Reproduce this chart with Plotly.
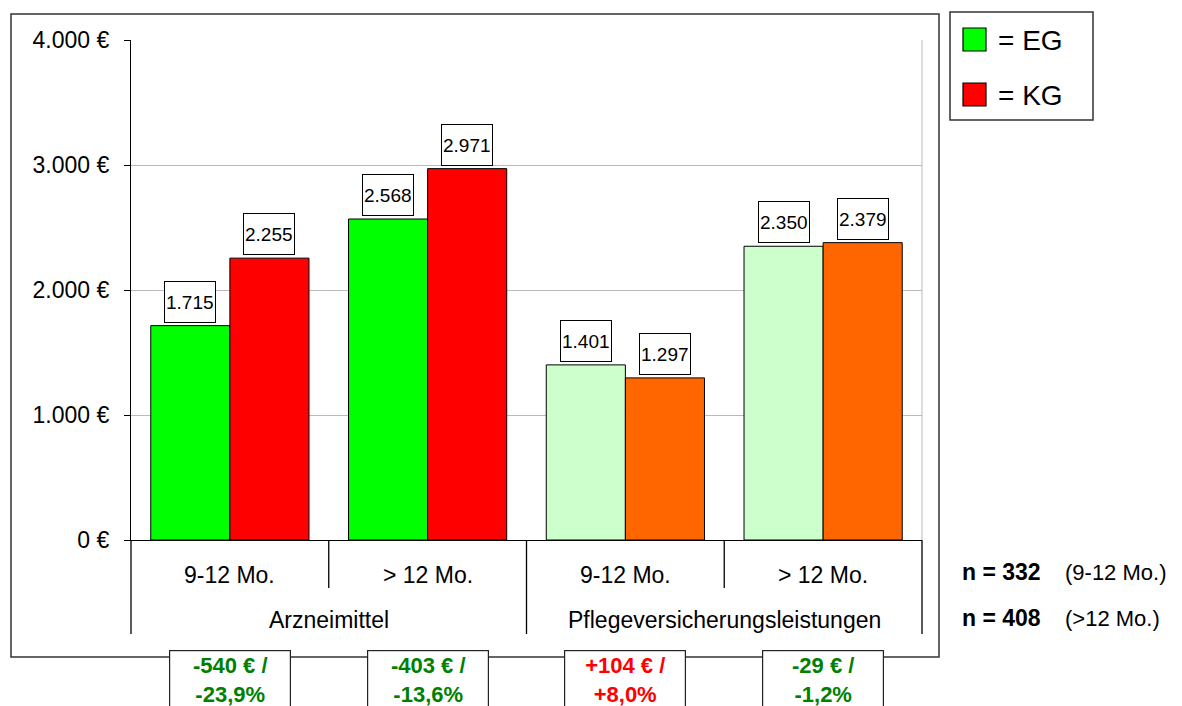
import plotly.graph_objects as go

# ---- data ----
groups = ["Arzneimittel", "Pflegeversicherungsleistungen"]
periods = ["9-12 Mo.", "> 12 Mo.", "9-12 Mo.", "> 12 Mo."]
series_names = ["EG", "KG"]
eg_values = [1715, 2568, 1401, 2350]
kg_values = [2255, 2971, 1297, 2379]
eg_colors = ["#00FF00", "#00FF00", "#CCFFCC", "#CCFFCC"]
kg_colors = ["#FF0000", "#FF0000", "#FF6600", "#FF6600"]
n_values = [332, 408]
n_periods = ["(9-12 Mo.)", "(>12 Mo.)"]
y_ticks = [0, 1000, 2000, 3000, 4000]

FONT = "Arial, Liberation Sans, sans-serif"
W, H = 1182, 706
L, R, T, B = 131, 922, 40, 540
PW, PH = R - L, B - T


def px(x):
    return (x - L) / PW


def py(y):
    return (B - y) / PH


def de(v):
    return f"{v:,}".replace(",", ".")


x_idx = list(range(len(periods)))

fig = go.Figure()
fig.add_trace(go.Bar(x=x_idx, y=eg_values, name=series_names[0],
                     marker=dict(color=eg_colors, line=dict(color="black", width=1)),
                     showlegend=False, hoverinfo="skip"))
fig.add_trace(go.Bar(x=x_idx, y=kg_values, name=series_names[1],
                     marker=dict(color=kg_colors, line=dict(color="black", width=1)),
                     showlegend=False, hoverinfo="skip"))

annotations = []
shapes = []

# data labels
for i in x_idx:
    for off, vals in ((-0.2, eg_values), (0.2, kg_values)):
        annotations.append(dict(
            x=i + off, y=vals[i], xref="x", yref="y", text=de(vals[i]),
            showarrow=False, yanchor="bottom", yshift=3,
            font=dict(family=FONT, size=19, color="black"),
            height=38,
            bgcolor="white", bordercolor="black", borderwidth=1, borderpad=1))

# category labels
for i, p in enumerate(periods):
    annotations.append(dict(x=i, y=py(575), xref="x", yref="paper", text=p,
                            showarrow=False, yanchor="middle",
                            font=dict(family=FONT, size=23, color="black")))
n_per_group = len(periods) // len(groups)
for g, name in enumerate(groups):
    center = g * n_per_group + (n_per_group - 1) / 2
    annotations.append(dict(x=center, y=py(620), xref="x", yref="paper", text=name,
                            showarrow=False, yanchor="middle",
                            font=dict(family=FONT, size=23, color="black")))

# separators below the axis
n_cat = len(periods)
for k in range(n_cat + 1):
    full = (k % n_per_group == 0)
    shapes.append(dict(type="line", xref="paper", yref="paper",
                       x0=k / n_cat, x1=k / n_cat, y0=0, y1=py(634 if full else 588),
                       line=dict(color="black", width=1.3)))

# plot area right border (gray)
shapes.append(dict(type="line", xref="paper", yref="paper", x0=1, x1=1, y0=0, y1=1,
                   line=dict(color="#BBBBBB", width=1)))

# outer frame
shapes.append(dict(type="rect", xref="paper", yref="paper",
                   x0=px(11), x1=px(939), y0=py(657), y1=py(14),
                   line=dict(color="#333333", width=1.5), fillcolor="rgba(0,0,0,0)",
                   layer="below"))

# difference boxes
for i in x_idx:
    d = eg_values[i] - kg_values[i]
    pct = d / kg_values[i] * 100
    sign = "+" if d > 0 else "-"
    pct_txt = f"{abs(pct):.1f}".replace(".", ",")
    txt = f"<b>{sign}{abs(d)} € /</b><br><b>{sign}{pct_txt}%</b>"
    col = "#FF0000" if d > 0 else "#008000"
    annotations.append(dict(x=(i + 0.5) / n_cat, y=py(650), xref="paper", yref="paper",
                            text=txt, showarrow=False, yanchor="top", xanchor="center",
                            width=116, align="center",
                            font=dict(family=FONT, size=22, color=col),
                            bgcolor="white", bordercolor="#222222", borderwidth=1.2,
                            borderpad=2))

# custom legend
shapes.append(dict(type="rect", xref="paper", yref="paper",
                   x0=px(950), x1=px(1093), y0=py(120), y1=py(12),
                   line=dict(color="#333333", width=1.5), fillcolor="white"))
legend_cols = [eg_colors[0], kg_colors[0]]
for j, name in enumerate(series_names):
    yc = 40 + j * 55
    shapes.append(dict(type="rect", xref="paper", yref="paper",
                       x0=px(963), x1=px(986), y0=py(yc + 11), y1=py(yc - 12),
                       line=dict(color="black", width=1.2), fillcolor=legend_cols[j]))
    annotations.append(dict(x=px(996), y=py(yc), xref="paper", yref="paper",
                            text=f"= {name}", showarrow=False, xanchor="left",
                            yanchor="middle",
                            font=dict(family=FONT, size=28, color="black")))

# n annotations
for j, (n, lab) in enumerate(zip(n_values, n_periods)):
    yc = 572 + j * 46
    annotations.append(dict(x=px(960), y=py(yc), xref="paper", yref="paper",
                            text=f"<b>n = {n}</b>", showarrow=False, xanchor="left",
                            yanchor="middle",
                            font=dict(family=FONT, size=23, color="black")))
    annotations.append(dict(x=px(1063), y=py(yc), xref="paper", yref="paper",
                            text=lab, showarrow=False, xanchor="left",
                            yanchor="middle",
                            font=dict(family=FONT, size=22, color="black")))

fig.update_layout(
    width=W, height=H, autosize=False,
    margin=dict(l=L, r=W - R, t=T, b=H - B, pad=0),
    paper_bgcolor="white", plot_bgcolor="white",
    barmode="group", bargap=0.2, bargroupgap=0,
    separators=",.",
    font=dict(family=FONT, color="black"),
    annotations=annotations, shapes=shapes,
    xaxis=dict(range=[-0.5, n_cat - 0.5], showticklabels=False, showgrid=False,
               zeroline=False, showline=True, linecolor="black", linewidth=1.3,
               ticks="", fixedrange=True),
    yaxis=dict(range=[0, 4000], tickvals=y_ticks,
               ticktext=[f"{de(v)} €" for v in y_ticks],
               showgrid=True, gridcolor="#BBBBBB", gridwidth=1, zeroline=False,
               showline=True, linecolor="black", linewidth=1.3,
               ticks="outside", ticklen=6, tickcolor="black",
               ticklabelstandoff=10,
               tickfont=dict(family=FONT, size=23, color="black")),
)

fig.write_html("out.html", config={"displayModeBar": False},
               post_script="document.body.style.margin='0';")
